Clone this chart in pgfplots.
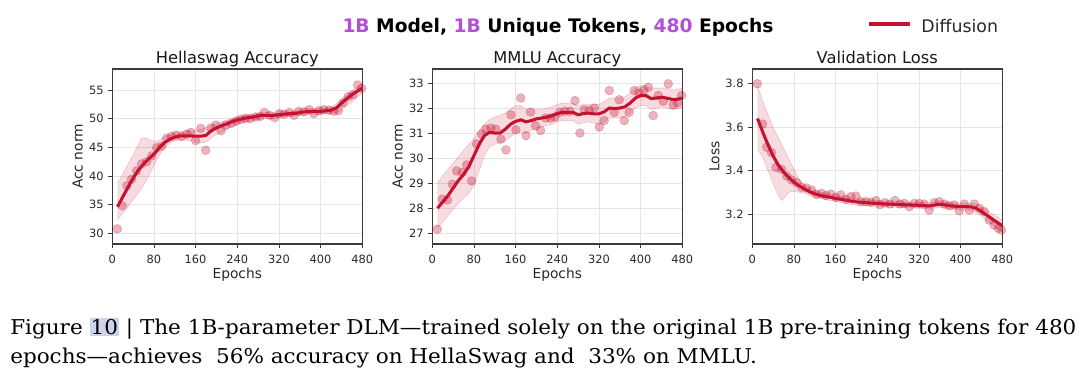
\documentclass[border=0pt]{standalone}
\usepackage{pgfplots}
\pgfplotsset{compat=1.18}
\usepackage{fontspec}
\setmainfont{DejaVu Sans}
\newfontfamily\capfont[FakeStretch=1.055]{DejaVu Serif}
\definecolor{dcrim}{RGB}{196,18,48}
\definecolor{ptitle}{RGB}{180,80,215}
\definecolor{spinec}{RGB}{60,60,60}
\definecolor{tickc}{RGB}{40,40,40}
\definecolor{hlc}{RGB}{205,211,232}
\pgfplotsset{panel/.style={
  scale only axis, width=187.5pt, height=131.25pt,
  xmin=0, xmax=480, xtick={0,80,...,480},
  tick pos=left, tick align=outside, major tick length=3pt,
  tick style={spinec, line width=0.6pt},
  axis line style={spinec, line width=0.8pt},
  grid=major, major grid style={black!10, line width=0.6pt},
  ticklabel style={font=\fontsize{8.55}{10}\selectfont, text=tickc},
  /pgf/number format/assume math mode=true,
  label style={font=\fontsize{10.35}{12}\selectfont, text=tickc},
  title style={font=\fontsize{12.2}{14}\selectfont, text=black!90, at={(axis description cs:0.5,1.036)}, anchor=base, yshift=-6.5pt},
  xlabel style={at={(axis description cs:0.5,-0.196)}, anchor=base},
  xticklabel style={yshift=-2pt},
  xlabel={Epochs},
}}
\pgfplotsset{
  band/.style={fill=dcrim, fill opacity=0.15, draw=dcrim, draw opacity=0.18, line width=0.5pt, forget plot},
  pts/.style={only marks, mark=*, mark size=3.3pt, mark options={fill=dcrim, fill opacity=0.32, draw=dcrim, draw opacity=0.3, line width=0.4pt}, forget plot},
  mline/.style={dcrim, line width=2.3pt, no marks},
}
\begin{document}
\begin{tikzpicture}
\path[use as bounding box] (0,0) rectangle (810pt,282.75pt);
% Main title
\node[anchor=base, inner sep=0pt, font=\bfseries\fontsize{14}{16}\selectfont] at (418.5pt,258.2pt) {\textcolor{ptitle}{1B} Model, \textcolor{ptitle}{1B} Unique Tokens, \textcolor{ptitle}{480} Epochs};
% ---------------- Hellaswag
\begin{axis}[panel, at={(84.2pt,99.75pt)}, anchor=south west,
  ymin=28.1, ymax=58.7, ytick={30,35,...,55},
  title={Hellaswag Accuracy}, ylabel={Acc norm},
  ylabel style={at={(axis description cs:-0.1184,0.5)}, anchor=base}]
\addplot[band] coordinates {
(10,38.7)(20,40.3)(30,42.0)(40,43.7)(50,45.5)(56,46.6)(66,46.6)(75,46.2)(85,46.0)(95,46.5)(105,47.0)(115,47.4)(125,47.7)(135,47.8)(145,47.8)(155,47.9)(165,48.1)(175,48.3)(185,48.6)(195,49.0)(205,49.3)(215,49.6)(225,49.9)(235,50.2)(245,50.4)(255,50.6)(265,50.7)(275,50.9)(285,51.0)(295,51.1)(305,51.1)(315,51.2)(325,51.3)(335,51.4)(345,51.4)(355,51.6)(365,51.7)(375,51.8)(385,51.8)(395,51.8)(405,51.9)(415,52.0)(425,52.3)(435,53.0)(445,53.8)(455,54.5)(465,55.2)(475,55.9)(480,56.2)
(480,54.5)(475,54.1)(465,53.3)(455,52.6)(445,51.9)(435,51.2)(425,51.0)(415,50.9)(405,50.8)(395,50.8)(385,50.8)(375,50.7)(365,50.6)(355,50.5)(345,50.4)(335,50.4)(325,50.3)(315,50.1)(305,50.1)(295,50.1)(285,49.9)(275,49.8)(265,49.6)(255,49.4)(245,49.2)(235,48.8)(225,48.4)(215,47.9)(205,47.5)(195,47.0)(185,46.2)(175,45.8)(165,45.8)(155,46.1)(145,46.2)(135,46.3)(125,46.2)(115,46.0)(105,45.3)(95,44.3)(85,42.7)(75,40.9)(65,39.2)(55,37.6)(45,36.4)(35,35.2)(25,34.0)(15,32.9)(10,32.3)
};
\addplot[pts] coordinates {
(9.6,30.75)(19.2,34.8)(28.2,38.3)(37,39.4)(46.8,40.9)(56.4,42.1)(66,42.5)(75.6,43.5)(85,44.9)(94.8,45.2)(104.4,46.6)(113.5,46.9)(122.3,47.15)(133,46.9)(142.8,47.3)(151,47.6)(160,46.2)(170,48.3)(179.3,44.5)(189.5,48.4)(199,48.9)(208.7,47.9)(217.7,48.9)(229,49.2)(238,49.6)(247,49.9)(256,50.1)(265,50.0)(275,50.3)(284,50.4)(292,51.1)(302,50.6)(312,50.2)(321,50.9)(330,50.8)(340,51.1)(349,50.6)(358,51.3)(368,51.2)(378,51.6)(387,50.9)(397,51.4)(406,51.6)(416,51.5)(425,51.3)(434,51.4)(443,52.8)(453,53.9)(462,54.2)(471,55.9)(479,55.3)
};
\addplot[mline] coordinates {
(10,34.6)(20,36.3)(30,38.0)(40,39.6)(50,41.0)(60,42.1)(70,43.0)(80,43.8)(90,44.9)(100,45.8)(110,46.4)(120,46.8)(130,47.0)(140,47.0)(150,47.0)(160,46.95)(170,46.95)(180,47.1)(190,47.9)(200,48.4)(210,48.8)(220,49.1)(230,49.5)(240,49.8)(250,50.0)(260,50.2)(270,50.3)(280,50.5)(290,50.6)(300,50.6)(310,50.6)(320,50.7)(330,50.8)(340,50.9)(350,50.9)(360,51.1)(370,51.2)(380,51.3)(390,51.3)(400,51.3)(410,51.4)(420,51.5)(430,51.9)(440,52.7)(450,53.5)(460,54.2)(470,54.8)(480,55.3)
};
\end{axis}
% ---------------- MMLU
\begin{axis}[panel, at={(324.2pt,99.75pt)}, anchor=south west,
  ymin=26.57, ymax=33.56, ytick={27,28,...,33},
  title={MMLU Accuracy}, ylabel={Acc norm},
  ylabel style={at={(axis description cs:-0.1184,0.5)}, anchor=base}]
\addplot[band] coordinates {
(10,29.0)(20,29.3)(30,29.55)(40,29.8)(50,30.05)(60,30.3)(70,30.55)(80,30.8)(90,31.1)(100,31.35)(110,31.55)(120,31.65)(130,31.7)(140,31.8)(150,31.95)(160,32.1)(170,32.1)(180,31.95)(190,31.95)(200,31.95)(210,31.95)(220,32.0)(230,32.05)(240,32.15)(250,32.2)(260,32.2)(270,32.2)(280,32.1)(290,32.15)(300,32.15)(310,32.15)(320,32.15)(330,32.25)(340,32.4)(350,32.4)(360,32.4)(370,32.45)(380,32.6)(390,32.8)(400,32.9)(410,32.9)(420,32.8)(430,32.8)(440,32.8)(450,32.8)(460,32.75)(470,32.75)(480,32.8)
(480,32.0)(470,31.95)(460,31.95)(450,32.0)(440,32.05)(430,32.0)(420,31.95)(410,32.1)(400,32.1)(390,32.0)(380,31.8)(370,31.65)(360,31.6)(350,31.6)(340,31.6)(330,31.45)(320,31.35)(310,31.4)(300,31.45)(290,31.4)(280,31.35)(270,31.5)(260,31.5)(250,31.5)(240,31.45)(230,31.35)(220,31.3)(210,31.25)(200,31.2)(190,31.1)(180,31.0)(170,31.05)(160,31.0)(150,30.85)(140,30.7)(130,30.6)(120,30.55)(110,30.45)(100,30.1)(90,29.5)(80,28.9)(70,28.6)(60,28.4)(50,28.2)(40,27.95)(30,27.7)(20,27.45)(10,27.2)
};
\addplot[pts] coordinates {
(9.6,27.16)(19.2,28.36)(29.4,28.33)(38.4,28.96)(46.7,29.49)(57.6,29.43)(66,29.73)(75.5,29.09)(85,30.57)(94.7,30.96)(103,31.16)(112.6,31.2)(122,31.16)(131.8,30.76)(141.4,30.33)(151,31.73)(160.6,31.13)(170,32.4)(180,30.9)(188.8,31.84)(198.4,31.29)(208,31.1)(217.6,31.6)(227,31.6)(235.5,31.64)(245,31.83)(254.7,31.87)(264.3,31.87)(274,32.3)(283.5,31.0)(291.8,31.93)(301.4,31.9)(311,32.0)(320.6,31.24)(330,31.5)(339.8,32.7)(349.4,31.83)(359,32.33)(368.6,31.5)(378,31.83)(387.8,32.7)(397.4,32.6)(406,32.7)(414.7,32.83)(424,31.7)(434,32.5)(443.5,32.27)(453,32.97)(462.7,32.13)(471,32.2)(478.7,32.5)
};
\addplot[mline] coordinates {
(10,28.0)(20,28.25)(30,28.5)(40,28.8)(50,29.1)(60,29.35)(70,29.65)(80,30.1)(90,30.55)(100,30.9)(110,31.03)(120,31.0)(130,31.0)(140,31.15)(150,31.35)(160,31.47)(170,31.53)(180,31.45)(190,31.5)(200,31.57)(210,31.6)(220,31.64)(230,31.7)(240,31.78)(250,31.83)(260,31.83)(270,31.83)(280,31.73)(290,31.78)(300,31.8)(310,31.77)(320,31.77)(330,31.85)(340,32.0)(350,31.98)(360,32.0)(370,32.05)(380,32.2)(390,32.4)(400,32.5)(410,32.5)(420,32.38)(430,32.4)(440,32.43)(450,32.4)(460,32.35)(470,32.35)(480,32.4)
};
\end{axis}
% ---------------- Validation loss
\begin{axis}[panel, at={(564.2pt,99.75pt)}, anchor=south west,
  ymin=3.062, ymax=3.868, ytick={3.2,3.4,3.6,3.8},
  yticklabel style={/pgf/number format/.cd, fixed, fixed zerofill, precision=1},
  title={Validation Loss}, ylabel={Loss},
  ylabel style={at={(axis description cs:-0.132,0.5)}, anchor=base},
  legend style={at={(axis description cs:0.459,1.243)}, anchor=west, draw=none, fill=none, inner sep=0pt,
    font=\fontsize{13}{15}\selectfont, text=tickc},
  legend cell align=left,
  legend image code/.code={\draw[#1, line width=3pt] (0pt,1.55pt) -- (30.75pt,1.55pt); \path (36pt,1.55pt);}]
\addplot[band] coordinates {
(10,3.79)(20,3.72)(30,3.66)(40,3.60)(50,3.55)(60,3.505)(70,3.455)(80,3.405)(90,3.36)(100,3.335)(110,3.32)(120,3.31)(130,3.30)(140,3.295)(150,3.292)(160,3.287)(170,3.283)(180,3.279)(190,3.274)(200,3.27)(210,3.268)(220,3.266)(230,3.264)(240,3.263)(250,3.261)(260,3.26)(270,3.259)(280,3.258)(290,3.257)(300,3.256)(310,3.255)(320,3.254)(330,3.253)(340,3.252)(350,3.257)(360,3.26)(370,3.257)(380,3.253)(390,3.251)(400,3.25)(410,3.25)(420,3.25)(430,3.245)(440,3.233)(450,3.218)(460,3.203)(470,3.188)(480,3.172)
(480,3.12)(470,3.136)(460,3.152)(450,3.17)(440,3.19)(430,3.205)(420,3.216)(410,3.218)(400,3.218)(390,3.221)(380,3.223)(370,3.227)(360,3.23)(350,3.227)(340,3.222)(330,3.225)(320,3.226)(310,3.227)(300,3.228)(290,3.229)(280,3.23)(270,3.231)(260,3.232)(250,3.233)(240,3.235)(230,3.236)(220,3.238)(210,3.24)(200,3.242)(190,3.244)(180,3.249)(170,3.253)(160,3.257)(150,3.262)(140,3.267)(130,3.272)(120,3.276)(110,3.285)(100,3.295)(90,3.30)(80,3.305)(70,3.30)(57,3.262)(50,3.285)(40,3.34)(30,3.40)(20,3.46)(10,3.50)
};
\addplot[pts] coordinates {
(9.6,3.8)(19.8,3.615)(27.5,3.508)(37,3.483)(45.4,3.415)(56.3,3.406)(66,3.375)(75.5,3.357)(85,3.345)(94.7,3.323)(104,3.32)(114,3.31)(123.5,3.29)(133,3.295)(141.4,3.285)(151,3.292)(160.6,3.277)(170,3.288)(180,3.268)(189.4,3.28)(199,3.283)(208.6,3.257)(218,3.257)(227.8,3.254)(237.4,3.262)(245,3.243)(254.7,3.252)(264.3,3.246)(274,3.262)(283.5,3.246)(291.8,3.249)(301.4,3.234)(311,3.249)(320.6,3.249)(330,3.246)(339.8,3.218)(349.4,3.252)(359,3.257)(368.6,3.246)(378,3.238)(387.8,3.242)(397.4,3.215)(407,3.246)(416.6,3.218)(426.2,3.246)(436,3.226)(445.4,3.211)(455,3.172)(464.6,3.149)(472.3,3.134)(478.7,3.126)
};
\addplot[mline] coordinates {
(10,3.640)(20,3.578)(30,3.520)(40,3.468)(50,3.425)(60,3.394)(70,3.368)(80,3.347)(90,3.330)(100,3.316)(110,3.303)(120,3.293)(130,3.286)(140,3.281)(150,3.277)(160,3.272)(170,3.268)(180,3.264)(190,3.259)(200,3.256)(210,3.254)(220,3.252)(230,3.250)(240,3.249)(250,3.247)(260,3.246)(270,3.245)(280,3.244)(290,3.243)(300,3.242)(310,3.241)(320,3.240)(330,3.239)(340,3.237)(350,3.242)(360,3.245)(370,3.242)(380,3.238)(390,3.236)(400,3.234)(410,3.234)(420,3.233)(430,3.226)(440,3.212)(450,3.195)(460,3.178)(470,3.162)(480,3.146)
};
\addlegendentry{Diffusion}
\end{axis}
% Caption
\node[anchor=base west, inner sep=0pt, font=\capfont\fontsize{15.3}{18}\selectfont] at (7.5pt,32pt) {Figure {\setlength{\fboxsep}{0.8pt}\colorbox{hlc}{10}} | The 1B-parameter DLM—trained solely on the original 1B pre-training tokens for 480};
\node[anchor=base west, inner sep=0pt, font=\capfont\fontsize{15.3}{18}\selectfont] at (7.5pt,10.2pt) {epochs—achieves\ \ 56\% accuracy on HellaSwag and\ \ 33\% on MMLU.};
\end{tikzpicture}
\end{document}
